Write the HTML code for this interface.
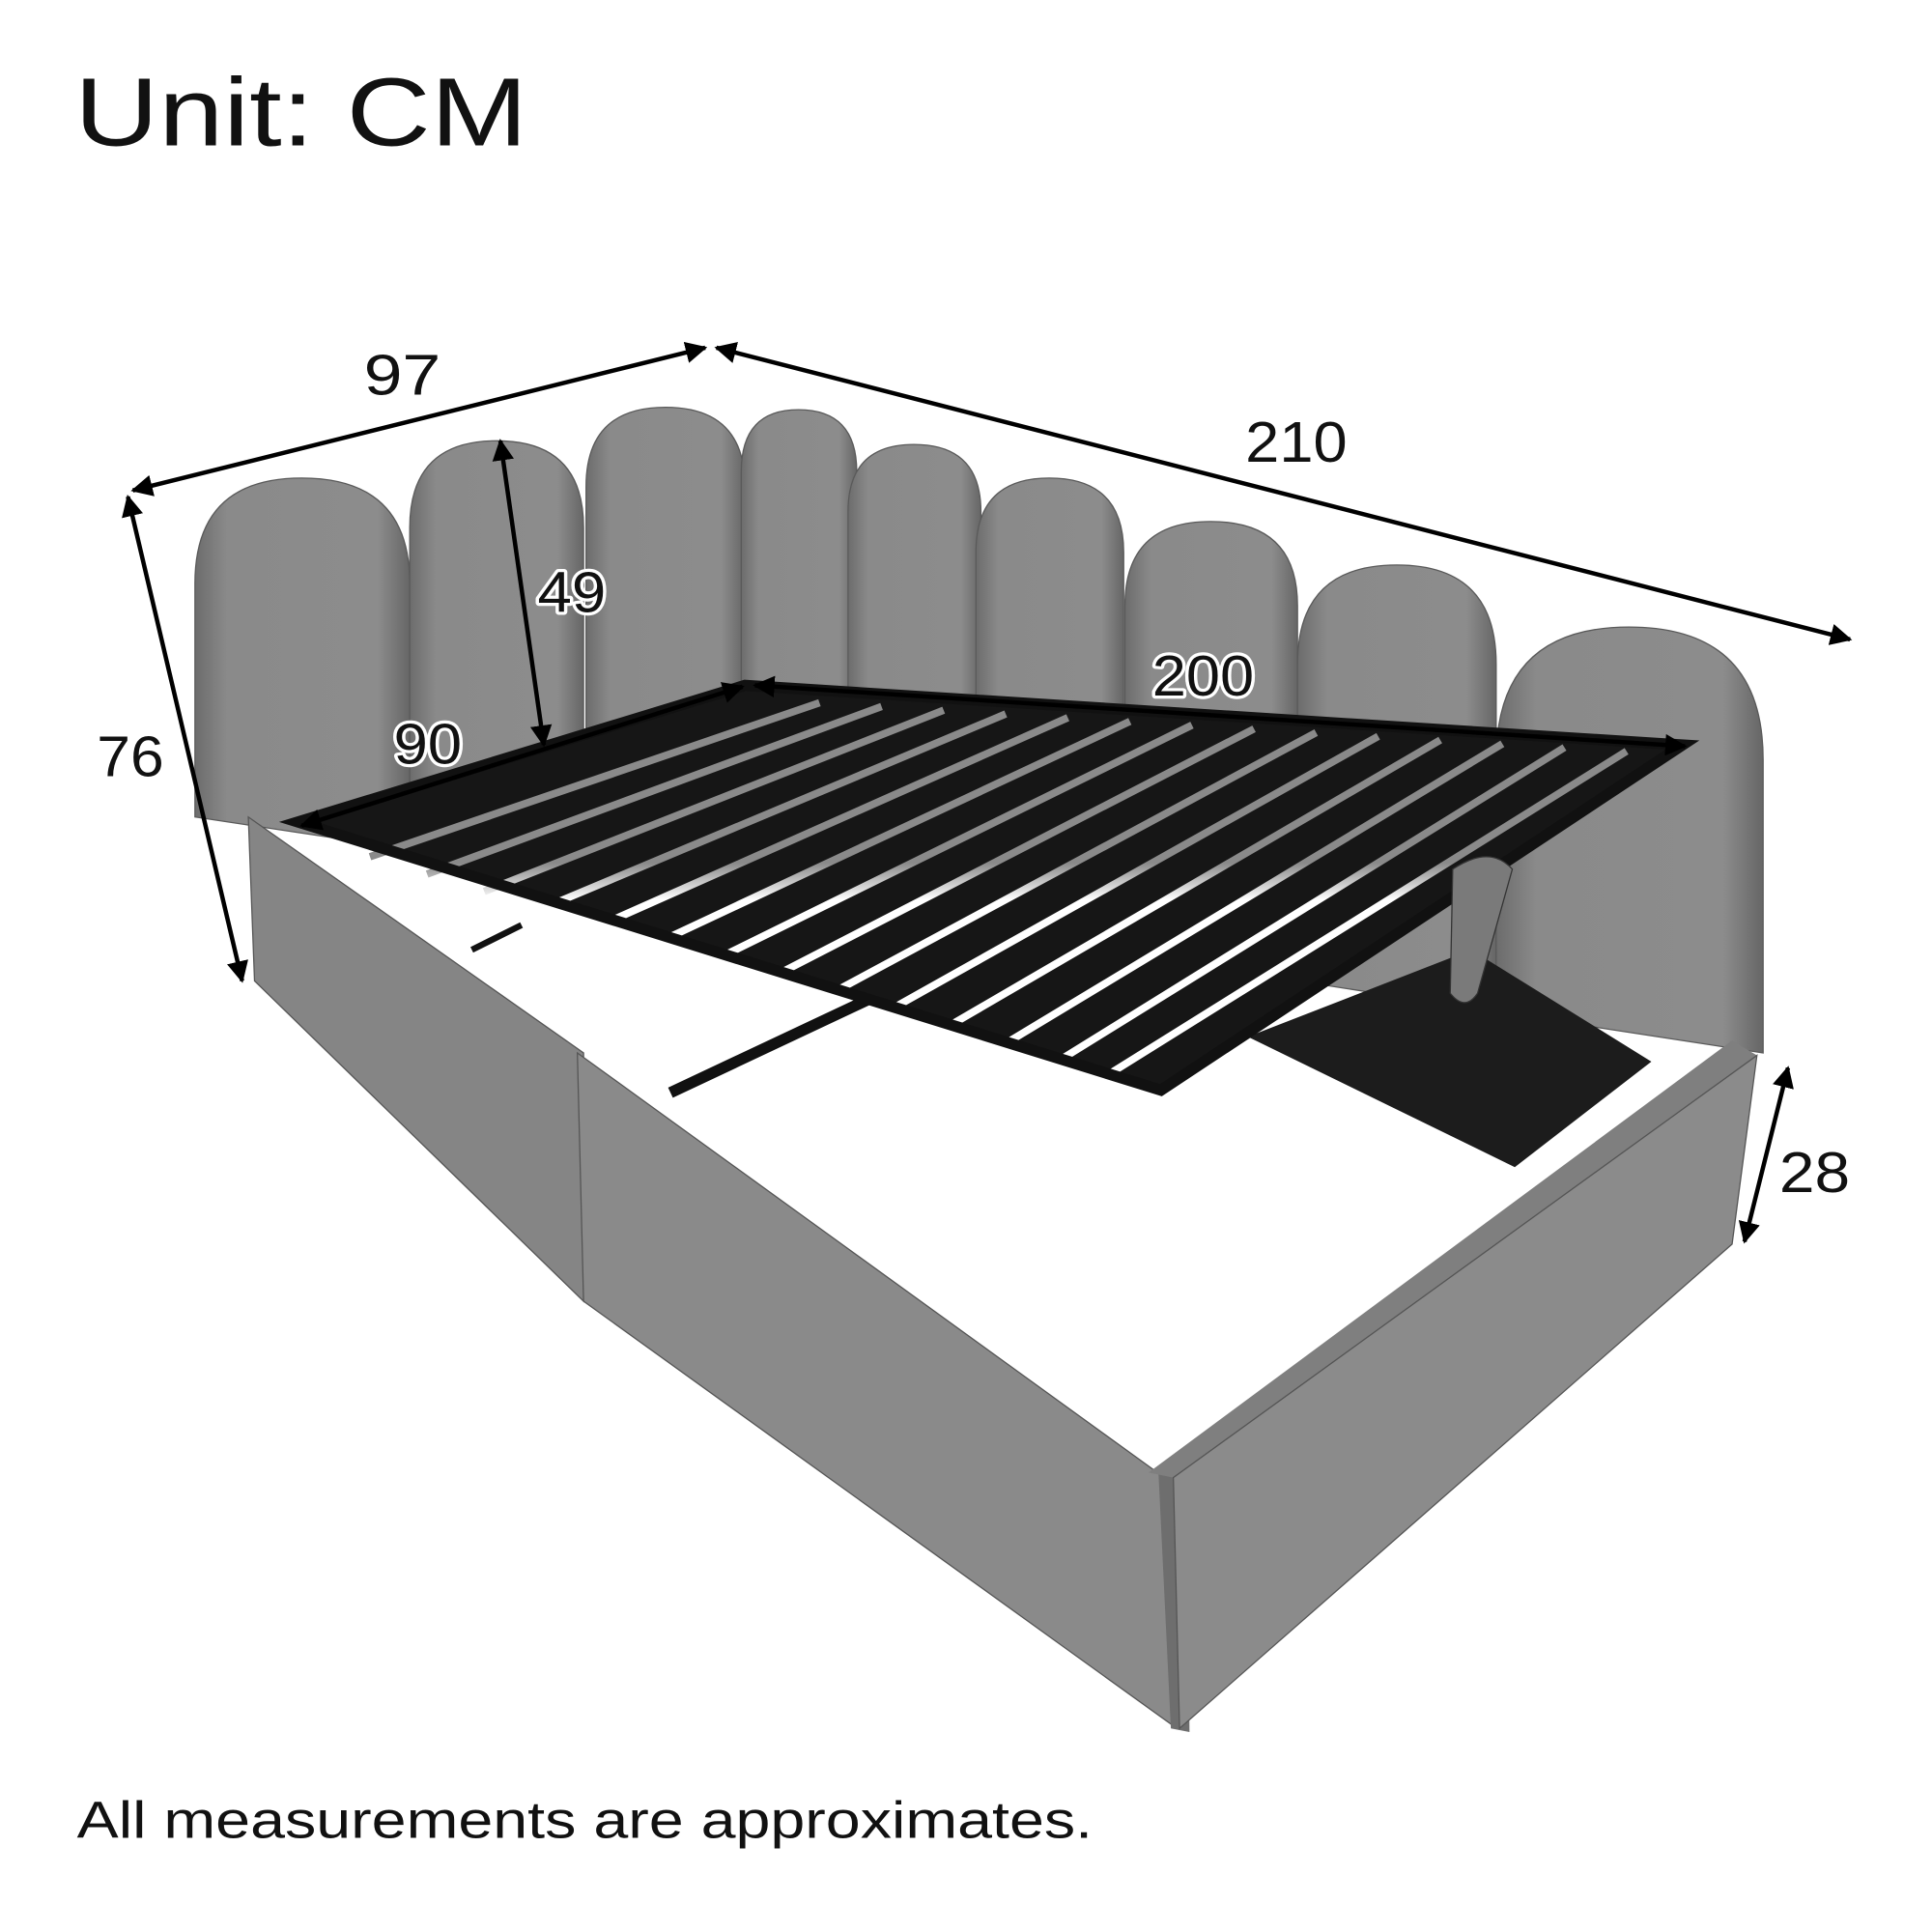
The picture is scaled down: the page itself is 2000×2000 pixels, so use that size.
<!DOCTYPE html>
<html><head><meta charset="utf-8"><style>
html,body{margin:0;padding:0;background:#fff;}
svg{display:block;}
text{font-family:"Liberation Sans",sans-serif;fill:#111;}
.lb{stroke:#fff;stroke-width:5;paint-order:stroke;stroke-linejoin:round;}
</style></head><body>
<svg width="2000" height="2000" viewBox="0 0 1556 1556" xmlns="http://www.w3.org/2000/svg">
<defs>
<marker id="ah" viewBox="0 0 10 10" refX="9" refY="5" markerWidth="5" markerHeight="5" orient="auto-start-reverse"><path d="M0,0 L10,5 L0,10 z" fill="#000"/></marker>
<linearGradient id="pg" x1="0" x2="1" y1="0" y2="0"><stop offset="0" stop-color="#6c6c6c"/><stop offset="0.15" stop-color="#8a8a8a"/><stop offset="0.85" stop-color="#8c8c8c"/><stop offset="1" stop-color="#666"/></linearGradient>
<linearGradient id="gap" gradientUnits="userSpaceOnUse" x1="0" y1="560" x2="0" y2="860"><stop offset="0" stop-color="#8a8a8a"/><stop offset="0.45" stop-color="#8a8a8a"/><stop offset="0.55" stop-color="#ffffff"/><stop offset="1" stop-color="#ffffff"/></linearGradient>
</defs>
<rect width="1556" height="1556" fill="#fff"/>
<text x="60" y="117" font-size="78" textLength="365" lengthAdjust="spacingAndGlyphs">Unit: CM</text>

<g fill="url(#pg)" stroke="#5a5a5a" stroke-width="1">
<path d="M157,470 Q157,385 243,385 Q330,385 330,470 L330,684 L157,658 Z"/>
<path d="M330,425 Q330,355 400,355 Q470,355 470,425 L470,705 L330,684 Z"/>
<path d="M472,392 Q472,328 536,328 Q600,328 600,392 L600,724 L472,705 Z"/>
<path d="M597,380 Q597,330 643,330 Q690,330 690,380 L690,738 L597,724 Z"/>
<path d="M683,412 Q683,358 736,358 Q790,358 790,412 L790,752 L683,738 Z"/>
<path d="M786,445 Q786,385 845,385 Q905,385 905,445 L905,770 L786,752 Z"/>
<path d="M906,488 Q906,420 975,420 Q1045,420 1045,488 L1045,790 L906,770 Z"/>
<path d="M1045,535 Q1045,455 1125,455 Q1205,455 1205,535 L1205,815 L1045,790 Z"/>
<path d="M1205,612 Q1205,505 1312,505 Q1420,505 1420,612 L1420,848 L1205,815 Z"/>
</g>

<polygon points="1005,835 1185,765 1330,855 1220,940" fill="#1c1c1c"/>
<line x1="540" y1="880" x2="710" y2="800" stroke="#111" stroke-width="9"/>
<line x1="380" y1="765" x2="420" y2="745" stroke="#111" stroke-width="5"/>
<rect x="876" y="760" width="12" height="40" fill="#111"/>

<polygon points="240,662 600,552 1355,600 935,878" fill="#161616"/>
<g stroke="url(#gap)" stroke-width="6">
<line x1="298" y1="690" x2="660" y2="566"/>
<line x1="344" y1="704" x2="710" y2="569"/>
<line x1="390" y1="718" x2="760" y2="572"/>
<line x1="436" y1="732" x2="810" y2="575"/>
<line x1="482" y1="746" x2="860" y2="578"/>
<line x1="528" y1="760" x2="910" y2="581"/>
<line x1="574" y1="774" x2="960" y2="584"/>
<line x1="620" y1="788" x2="1010" y2="587"/>
<line x1="666" y1="802" x2="1060" y2="590"/>
<line x1="712" y1="816" x2="1110" y2="593"/>
<line x1="758" y1="830" x2="1160" y2="596"/>
<line x1="804" y1="844" x2="1210" y2="599"/>
<line x1="850" y1="856" x2="1260" y2="602"/>
<line x1="895" y1="864" x2="1310" y2="605"/>
</g>
<polygon points="240,662 600,552 1355,600 935,878" fill="none" stroke="#111" stroke-width="9"/>
<path d="M1170,700 Q1200,680 1218,700 L1190,800 Q1180,815 1168,800 Z" fill="#7a7a7a" stroke="#333"/>

<polygon points="200,658 470,848 470,1048 205,790" fill="#858585" stroke="#555"/>
<polygon points="465,848 935,1188 945,1390 470,1048" fill="#8a8a8a" stroke="#555"/>
<polygon points="933,1186 956,1192 958,1395 943,1392" fill="#6e6e6e"/>
<polygon points="925,1186 1395,838 1415,850 945,1190" fill="#7f7f7f"/>
<polygon points="945,1190 1415,850 1395,1002 950,1392" fill="#8b8b8b" stroke="#555"/>

<g stroke="#000" stroke-width="3.5" marker-start="url(#ah)" marker-end="url(#ah)">
<line x1="107" y1="395" x2="568" y2="280"/>
<line x1="577" y1="280" x2="1490" y2="515"/>
<line x1="103" y1="400" x2="195" y2="790"/>
<line x1="403" y1="355" x2="438" y2="600"/>
<line x1="243" y1="665" x2="598" y2="553"/>
<line x1="608" y1="552" x2="1357" y2="601"/>
<line x1="1440" y1="860" x2="1405" y2="1000"/>
</g>
<g font-size="46" class="lb">
<text x="293" y="318" textLength="62" lengthAdjust="spacingAndGlyphs">97</text>
<text x="1003" y="372" textLength="82" lengthAdjust="spacingAndGlyphs">210</text>
<text x="78" y="625" textLength="54" lengthAdjust="spacingAndGlyphs">76</text>
<text x="433" y="493" textLength="55" lengthAdjust="spacingAndGlyphs">49</text>
<text x="317" y="615" textLength="55" lengthAdjust="spacingAndGlyphs">90</text>
<text x="928" y="560" textLength="82" lengthAdjust="spacingAndGlyphs">200</text>
<text x="1433" y="960" textLength="57" lengthAdjust="spacingAndGlyphs">28</text>
</g>
<text x="62" y="1480" font-size="42" textLength="818" lengthAdjust="spacingAndGlyphs">All measurements are approximates.</text>
</svg>
</body></html>
